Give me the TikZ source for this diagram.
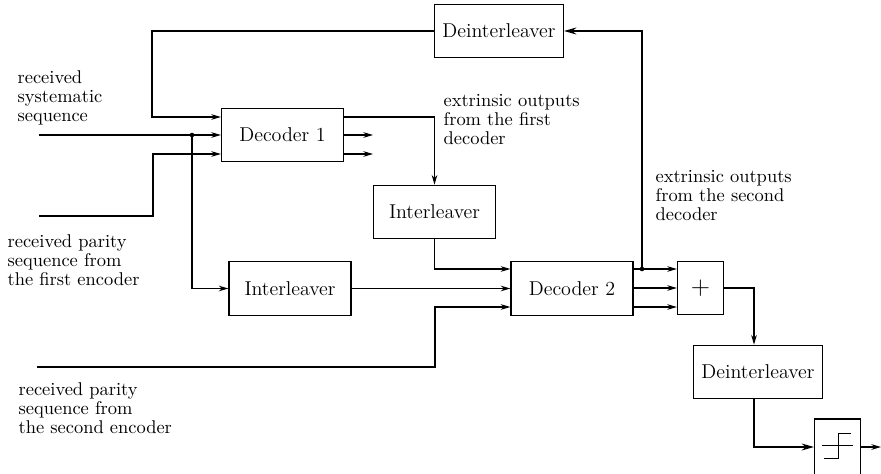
\documentclass[tikz,border=0pt]{standalone}
\usepackage{fontspec}
\usetikzlibrary{arrows.meta}
\usetikzlibrary{positioning}
\tikzstyle{block} = [draw, line width=.7pt, minimum width=2.44cm, minimum height=1.07cm, inner sep=0pt, font=\fontsize{11.4}{13}\selectfont]
\tikzstyle{wide} = [minimum width=2.58cm]
\tikzstyle{small} = [minimum width=.92cm]
\tikzstyle{lbl} = [anchor=base west, align=left, inner sep=0pt, font=\fontsize{10.5}{10.8}\selectfont]
\tikzstyle{arr} = [-{Stealth[length=5.5pt,width=3.2pt]}]
\tikzstyle{bigarr} = [-{Stealth[length=7pt,width=4pt]}]

\begin{document}
\begin{tikzpicture}[
  x=0.02cm, y=-0.02cm,
  line width=.7pt,
]
\useasboundingbox (0,0) rectangle (881,473);

% blocks
\node[block, wide] (deint1) at (499,31) {Deinterleaver};
\node[block] (dec1) at (282.5,135) {Decoder 1};
\node[block] (intl1) at (434.5,212) {Interleaver};
\node[block] (intl2) at (290,288.5) {Interleaver};
\node[block] (dec2) at (572,288.5) {Decoder 2};
\node[block, small, font=\fontsize{15}{17}\selectfont] (plus) at (700.5,288) {$+$};
\node[block, wide] (deint2) at (758,372) {Deinterleaver};
\node[block, small, minimum height=1.12cm] (hard) at (837.5,447) {};

% labels (anchored at last line)
\node[lbl] (lsys) at (17,121) {received\\systematic\\sequence};
\node[lbl] (lpar1) at (7,285) {received parity\\sequence from\\the first encoder};
\node[lbl] (lpar2) at (18,433) {received parity\\sequence from\\the second encoder};
\node[lbl] (lext1) at (443,144) {extrinsic outputs\\from the first\\decoder};
\node[lbl] (lext2) at (655,220) {extrinsic outputs\\from the second\\decoder};

\coordinate (sys) at (39,135);
\coordinate (par1) at (39,216);
\coordinate (par2) at (37,367);
\coordinate (tap1) at (192,135);
\coordinate (tap2) at (642,269);
\coordinate (stub1) at (373,135);
\coordinate (stub2) at (373,154);
\coordinate (out) at (881,447);

% decoder 1
\draw[arr] (deint1.west) -| (152,117) -- (dec1.west |- 0,117);
\draw[arr] (sys) -- (dec1.west |- sys);
\draw[arr] (par1) -| (153,154) -- (dec1.west |- 0,154);
\draw[arr] (tap1) |- (intl2.west);
\draw[arr] (dec1.east |- 0,117) -| (intl1.north);
\draw[arr] (dec1.east |- stub1) -- (stub1);
\draw[arr] (dec1.east |- stub2) -- (stub2);

% decoder 2
\draw[arr] (intl1.south) |- (dec2.west |- 0,269);
\draw[arr] (intl2.east) -- (dec2.west);
\draw[arr] (par2) -| (435,307) -- (dec2.west |- 0,307);
\foreach \y in {269,288,307}
  \draw[arr] (dec2.east |- 0,\y) -- (plus.west |- 0,\y);
\draw[bigarr] (tap2) |- (deint1.east);
\draw[arr] (plus.east) -| (deint2.north -| 754,0);
\draw[bigarr] (deint2.south -| 754,0) |- (hard.west);
\draw[arr] (hard.east) -- (out);
\fill (tap1) circle (1.3pt);
\fill (tap2) circle (1.3pt);

% hard decision
\draw[line width=.5pt] (hard.center) ++(-15.5,-2) -- ++(31,0);
\draw[line width=.5pt] (hard.center) ++(-13.5,11) -- ++(14,0) -- ++(0,-25) -- ++(13,0);

\end{tikzpicture}
\end{document}
